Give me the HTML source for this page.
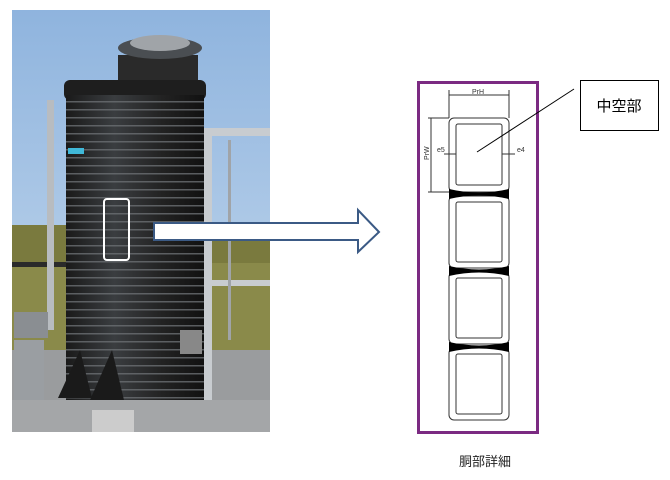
<!DOCTYPE html>
<html><head><meta charset="utf-8"><style>
html,body{margin:0;padding:0;background:#fff;width:670px;height:480px;overflow:hidden}
svg{display:block}
</style></head><body>
<svg width="670" height="480" viewBox="0 0 670 480" xmlns="http://www.w3.org/2000/svg">
<defs>
<linearGradient id="sky" x1="0" y1="0" x2="0" y2="1">
<stop offset="0" stop-color="#8fb4de"/><stop offset="1" stop-color="#c9dcef"/>
</linearGradient>
<linearGradient id="tank" x1="0" y1="0" x2="1" y2="0">
<stop offset="0" stop-color="#1a1a1a"/><stop offset="0.35" stop-color="#3a3d40"/><stop offset="0.7" stop-color="#222"/><stop offset="1" stop-color="#111"/>
</linearGradient>
<pattern id="rings" width="10" height="8" patternUnits="userSpaceOnUse">
<rect width="10" height="8" fill="none"/><rect y="5" width="10" height="1.5" fill="#6a6e72" opacity="0.8"/>
</pattern>
</defs>
<rect x="12" y="10" width="258" height="422" fill="url(#sky)"/>
<rect x="12" y="225" width="258" height="40" fill="#7a7a3e"/>
<rect x="12" y="263" width="258" height="90" fill="#8a8a4a"/>
<rect x="12" y="262" width="60" height="5" fill="#2a2a2a"/>
<rect x="12" y="350" width="258" height="82" fill="#9a9c9e"/>
<rect x="47" y="100" width="7" height="230" fill="#b8bcc0"/>
<rect x="204" y="130" width="8" height="300" fill="#c8ccd0"/>
<rect x="204" y="128" width="66" height="8" fill="#c8ccd0"/>
<rect x="212" y="280" width="58" height="6" fill="#c8ccd0"/>
<rect x="228" y="140" width="3" height="200" fill="#a0a4a8"/>
<rect x="118" y="55" width="80" height="28" fill="#2a2a2a"/>
<ellipse cx="160" cy="48" rx="42" ry="11" fill="#4a4e52"/>
<ellipse cx="160" cy="43" rx="30" ry="8" fill="#a0a4a8"/>
<rect x="64" y="80" width="142" height="20" rx="6" fill="#1e1e1e"/>
<rect x="66" y="95" width="138" height="305" fill="url(#tank)"/>
<rect x="66" y="95" width="138" height="305" fill="url(#rings)"/>
<rect x="68" y="148" width="16" height="6" fill="#40b8d8"/>
<polygon points="58,398 80,350 92,398" fill="#1a1a1a"/>
<polygon points="90,400 112,350 124,400" fill="#1a1a1a"/>
<rect x="180" y="330" width="22" height="24" fill="#888"/>
<rect x="14" y="312" width="34" height="26" fill="#8a8e92"/>
<rect x="14" y="340" width="30" height="60" fill="#9a9ea2"/>
<rect x="12" y="400" width="258" height="32" fill="#a4a6a8"/>
<rect x="92" y="410" width="42" height="22" fill="#ccc"/>
<rect x="104" y="199" width="25" height="61" rx="3" fill="none" stroke="#fff" stroke-width="2"/>
<polygon points="154,223 358,223 358,210 379,232 358,252 358,240 154,240" fill="#fff" stroke="#3b5a85" stroke-width="2" stroke-linejoin="miter"/>
<rect x="418.5" y="82.5" width="119" height="350" fill="#fff" stroke="#7b2a82" stroke-width="3"/>
<g fill="none" stroke="#333" stroke-width="1">
<rect x="449" y="118" width="60" height="74" rx="5"/>
<rect x="456" y="124" width="46" height="61" rx="2"/>
<rect x="449" y="196" width="60" height="72" rx="5"/>
<rect x="456" y="202" width="46" height="60" rx="2"/>
<rect x="449" y="272" width="60" height="72" rx="5"/>
<rect x="456" y="278" width="46" height="60" rx="2"/>
<rect x="449" y="348" width="60" height="72" rx="5"/>
<rect x="456" y="354" width="46" height="60" rx="2"/>
<line x1="449" y1="90" x2="449" y2="118"/><line x1="509" y1="90" x2="509" y2="118"/>
<line x1="449" y1="95" x2="509" y2="95"/>
<line x1="428" y1="118" x2="449" y2="118"/><line x1="428" y1="192" x2="449" y2="192"/>
<line x1="431" y1="118" x2="431" y2="192"/>
<line x1="444" y1="154" x2="456" y2="154"/><line x1="502" y1="154" x2="515" y2="154"/>
<line x1="477" y1="152" x2="574" y2="89" stroke="#000"/>
</g>
<g fill="#000">
<path d="M449,189 Q479,196 509,189 L509,199 Q479,192 449,199 Z"/>
<path d="M449,266 Q479,273 509,266 L509,276 Q479,269 449,276 Z"/>
<path d="M449,342 Q479,349 509,342 L509,352 Q479,345 449,352 Z"/>
</g>
<g font-family="Liberation Sans, sans-serif" font-size="7" fill="#333">
<text x="472" y="94">PrH</text>
<text x="437" y="152">e5</text>
<text x="517" y="152">e4</text>
<text x="429" y="160" transform="rotate(-90 429 160)">PrW</text>
</g>
<rect x="580.5" y="80.5" width="78" height="50" fill="#fff" stroke="#000" stroke-width="1"/>
<text x="619" y="111" text-anchor="middle" font-family="Liberation Sans, 'Noto Sans CJK JP', sans-serif" font-size="15" fill="#000">中空部</text>
<text x="485" y="466" text-anchor="middle" font-family="Liberation Sans, 'Noto Sans CJK JP', sans-serif" font-size="13" fill="#222">胴部詳細</text>
</svg>
</body></html>
